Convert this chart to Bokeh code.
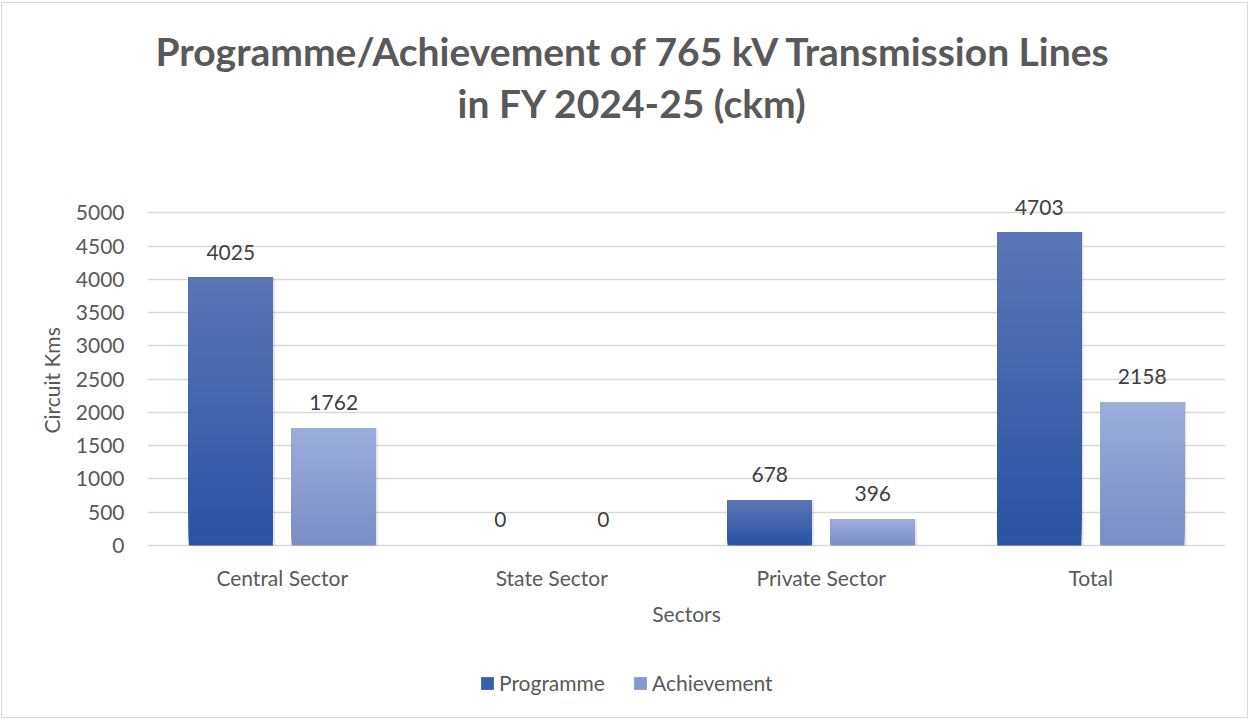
from bokeh.plotting import figure
from bokeh.models import (ColumnDataSource, Legend, LegendItem, FixedTicker, Range1d,
                          Title, Label)
from bokeh.transform import dodge
from bokeh.embed import file_html
from bokeh.resources import INLINE

categories = ["Central Sector", "State Sector", "Private Sector", "Total"]
programme = [4025, 0, 678, 4703]
achievement = [1762, 0, 396, 2158]
series_names = ["Programme", "Achievement"]
y_ticks = [0, 500, 1000, 1500, 2000, 2500, 3000, 3500, 4000, 4500, 5000]
title_lines = ["Programme/Achievement of 765 kV Transmission Lines", "in FY 2024-25 (ckm)"]
x_title = "Sectors"
y_title = "Circuit Kms"

FONT = "Lato"
GRAY = "#595959"
N_SLICES = 60

def lerp_color(c1, c2, t):
    a = [int(c1[i:i + 2], 16) for i in (1, 3, 5)]
    b = [int(c2[i:i + 2], 16) for i in (1, 3, 5)]
    return "#%02x%02x%02x" % tuple(round(a[k] + (b[k] - a[k]) * t) for k in range(3))

def gradient_source(values, bottom_col, top_col):
    # each slice runs from its start up to the bar top; later slices cover earlier ones
    xs, bots, tops, cols = [], [], [], []
    for cat, v in zip(categories, values):
        for i in range(N_SLICES):
            xs.append(cat)
            bots.append(v * i / N_SLICES)
            tops.append(v)
            cols.append(lerp_color(bottom_col, top_col, (i + 0.5) / N_SLICES))
    return ColumnDataSource(dict(x=xs, bottom=bots, top=tops, color=cols))

# the frame extends below zero so that category labels, axis title and legend sit inside it
p = figure(
    x_range=categories,
    y_range=Range1d(-2510, 5350),
    width=1245, height=714,
    frame_width=1078, frame_height=523,
    min_border_left=145, min_border_right=22,
    min_border_top=186, min_border_bottom=5,
    output_backend="svg", toolbar_location=None,
)
p.styles = {"border": "1px solid #d9d9d9", "margin-left": "1px", "margin-top": "2px"}
p.outline_line_color = None
p.background_fill_color = "white"
p.border_fill_color = "white"

spacer = Title(text=" ", text_font_size="1px", standoff=61)
t2 = Title(text=title_lines[1], align="left", text_font=FONT, text_font_style="bold",
           text_font_size="39px", text_color=GRAY, standoff=0, offset=310)
t1 = Title(text=title_lines[0], align="left", text_font=FONT, text_font_style="bold",
           text_font_size="39px", text_color=GRAY, standoff=8, offset=8)
p.add_layout(spacer, "above")
p.add_layout(t2, "above")
p.add_layout(t1, "above")

off = 0.191
bw = 0.312

# soft shadows
shadow = ColumnDataSource(dict(x=categories, p=programme, a=achievement))
p.vbar(x=dodge("x", -off + 0.008, range=p.x_range), top="p", bottom=0, width=bw,
       source=shadow, fill_color="black", fill_alpha=0.10, line_color=None)
p.vbar(x=dodge("x", off + 0.008, range=p.x_range), top="a", bottom=0, width=bw,
       source=shadow, fill_color="black", fill_alpha=0.10, line_color=None)

src_p = gradient_source(programme, "#2a53a3", "#5a76b6")
src_a = gradient_source(achievement, "#7a8dc6", "#9caedb")
r_p = p.vbar(x=dodge("x", -off, range=p.x_range), top="top", bottom="bottom", width=bw,
             source=src_p, fill_color="color", line_color=None)
r_a = p.vbar(x=dodge("x", off, range=p.x_range), top="top", bottom="bottom", width=bw,
             source=src_a, fill_color="color", line_color=None)

lab = ColumnDataSource(dict(x=categories, p=programme, a=achievement, zero=[0] * len(categories),
                            pt=[str(v) for v in programme], at=[str(v) for v in achievement]))
p.text(x=dodge("x", -off, range=p.x_range), y="p", text="pt", source=lab,
       text_align="center", text_baseline="bottom", y_offset=-18,
       text_font={"value": FONT}, text_font_size="21px", text_color="#404040")
p.text(x=dodge("x", off, range=p.x_range), y="a", text="at", source=lab,
       text_align="center", text_baseline="bottom", y_offset=-18,
       text_font={"value": FONT}, text_font_size="21px", text_color="#404040")

# category labels under the zero line
p.text(x="x", y="zero", text="x", source=lab, text_align="center", text_baseline="middle",
       y_offset=32, text_font={"value": FONT}, text_font_size="21px", text_color=GRAY)

# x axis title
p.add_layout(Label(x=len(categories) / 2, y=0, y_offset=-68, text=x_title,
                   text_align="center", text_baseline="middle", text_font=FONT,
                   text_font_size="21px", text_color=GRAY))

# axes
p.xaxis.visible = False
p.yaxis.ticker = FixedTicker(ticks=y_ticks)
p.ygrid.ticker = FixedTicker(ticks=y_ticks)
p.ygrid.grid_line_color = "#d9d9d9"
p.ygrid.grid_line_width = 1.5
p.xgrid.grid_line_color = None
p.yaxis.axis_line_color = None
p.yaxis.major_tick_line_color = None
p.yaxis.minor_tick_line_color = None
p.yaxis.major_tick_out = 0
p.yaxis.minor_tick_out = 0
p.yaxis.major_label_standoff = 23
p.yaxis.major_label_text_font = FONT
p.yaxis.major_label_text_font_size = "21px"
p.yaxis.major_label_text_color = GRAY

ytitle = Title(text=y_title, align="left", offset=279, standoff=18, text_font=FONT,
               text_font_style="normal", text_font_size="21px", text_color=GRAY)
p.add_layout(ytitle, "left")

legend = Legend(items=[
    LegendItem(label=series_names[0], renderers=[r_p], index=20),
    LegendItem(label=series_names[1], renderers=[r_a], index=80),
], orientation="horizontal", location=(332, 17))
legend.border_line_color = None
legend.background_fill_color = None
legend.background_fill_alpha = 0
legend.label_text_font = FONT
legend.label_text_font_size = "21px"
legend.label_text_color = GRAY
legend.glyph_width = 16
legend.glyph_height = 16
legend.label_standoff = 4
legend.spacing = 27
legend.margin = 0
legend.padding = 0
p.add_layout(legend, "center")

open("out.html", "w").write(file_html(p, INLINE))
